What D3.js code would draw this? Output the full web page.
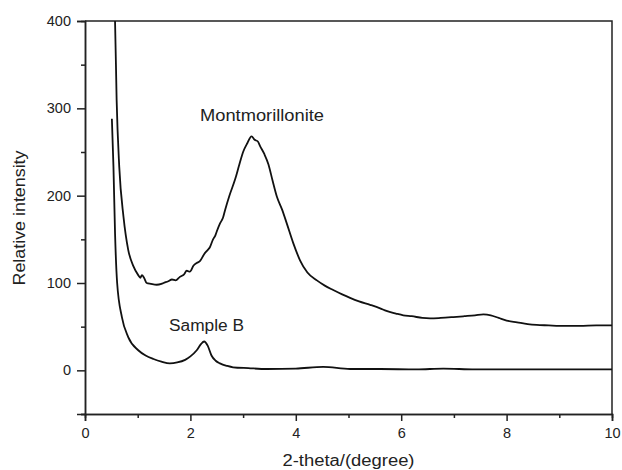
<!DOCTYPE html>
<html>
<head>
<meta charset="utf-8">
<script src="https://cdn.jsdelivr.net/npm/d3@7"></script>
<style>
  body { margin: 0; background: #fff; }
  svg text { font-family: "Liberation Sans", Arial, sans-serif; fill: #222; }
</style>
</head>
<body>
<svg id="chart" width="622" height="470"></svg>
<script>
// XRD patterns: 2-theta (degree) vs relative intensity
const montTheta = [0.55, 0.57, 0.60, 0.65, 0.73, 0.82, 0.92, 1.01, 1.05, 1.08, 1.12, 1.17, 1.25, 1.36, 1.45, 1.49, 1.58, 1.65, 1.72, 1.80, 1.88, 1.93, 1.99, 2.06, 2.12, 2.18, 2.26, 2.33, 2.37, 2.43, 2.47, 2.50, 2.56, 2.62, 2.66, 2.74, 2.85, 2.93, 3.00, 3.08, 3.16, 3.22, 3.28, 3.32, 3.40, 3.48, 3.56, 3.64, 3.74, 3.83, 3.95, 4.08, 4.22, 4.40, 4.55, 4.71, 4.88, 5.03, 5.20, 5.41, 5.60, 5.72, 5.90, 6.04, 6.20, 6.40, 6.55, 6.75, 6.99, 7.20, 7.40, 7.56, 7.70, 7.85, 8.00, 8.20, 8.40, 8.57, 8.80, 9.00, 9.39, 9.70, 10.0];
const montInt   = [420, 400, 310, 233, 176, 138, 119, 109, 106, 109, 106, 100, 99, 98, 99, 100, 102, 104, 103, 107, 110, 114, 113, 120, 123, 125, 133, 138, 141, 150, 154, 159, 168, 175, 184, 200, 219, 236, 250, 260, 268, 264, 262, 257, 248, 236, 217, 199, 184, 168, 146, 126, 112, 103, 97, 92, 87, 83, 79, 75, 71, 68, 65, 63, 62, 60, 59.5, 60, 61, 62, 63, 64, 63, 60, 57, 55, 53, 52, 51.5, 51, 51, 51.5, 51.5];

const sampTheta = [0.51, 0.54, 0.57, 0.61, 0.70, 0.82, 1.01, 1.15, 1.30, 1.45, 1.61, 1.75, 1.90, 2.00, 2.12, 2.20, 2.26, 2.33, 2.40, 2.48, 2.56, 2.70, 2.81, 3.10, 3.45, 4.00, 4.52, 5.03, 5.60, 6.29, 6.80, 7.40, 8.20, 9.00, 10.0];
const sampInt   = [288, 233, 157, 100, 61, 38, 23, 17, 13, 10, 8, 9, 12, 16, 23, 30, 33, 28, 17, 11, 8, 5, 3.5, 2.5, 1.5, 2, 4, 1.5, 1.5, 1, 2, 1, 1, 1, 1];

const xMajor = [0, 2, 4, 6, 8, 10];
const xMinor = [1, 3, 5, 7, 9];
const yMajor = [0, 100, 200, 300, 400];
const yMinor = [-50, 50, 150, 250, 350];

const svg = d3.select("#chart");
const m = { left: 85, right: 612, top: 21, bottom: 414 };

const x = d3.scaleLinear().domain([0, 10]).range([m.left, m.right]);
const y = d3.scaleLinear().domain([-50, 400]).range([m.bottom, m.top]);

svg.append("defs").append("clipPath").attr("id", "plotclip")
  .append("rect").attr("x", m.left).attr("y", m.top)
  .attr("width", m.right - m.left).attr("height", m.bottom - m.top);

// frame (top and right edges)
svg.append("path")
  .attr("d", `M${m.left},${m.top}H${m.right}V${m.bottom}`)
  .attr("fill", "none").attr("stroke", "#222").attr("stroke-width", 1.5);

const tickFont = "Liberation Sans, Arial, sans-serif";

// x axis
const gx = svg.append("g").attr("transform", `translate(0,${m.bottom})`);
gx.append("g").call(d3.axisBottom(x).tickValues(xMinor).tickSize(4).tickFormat(""));
gx.append("g").call(d3.axisBottom(x).tickValues(xMajor).tickSize(7).tickPadding(7).tickFormat(d3.format("d")));
gx.selectAll(".domain").attr("stroke", "#222").attr("stroke-width", 1.5);
gx.selectAll(".tick line").attr("stroke", "#222").attr("stroke-width", 1.5);
gx.selectAll(".tick text").attr("font-size", 14.5).style("fill", "#222").attr("font-family", tickFont);

// y axis
const gy = svg.append("g").attr("transform", `translate(${m.left},0)`);
gy.append("g").call(d3.axisLeft(y).tickValues(yMinor).tickSize(4).tickFormat(""));
gy.append("g").call(d3.axisLeft(y).tickValues(yMajor).tickSize(8).tickPadding(6).tickFormat(d3.format("d")));
gy.selectAll(".domain").attr("stroke", "#222").attr("stroke-width", 1.5);
gy.selectAll(".tick line").attr("stroke", "#222").attr("stroke-width", 1.5);
gy.selectAll(".tick text").attr("font-size", 14.5).style("fill", "#222").attr("font-family", tickFont);

// curves
const line = d3.line().x(d => x(d[0])).y(d => y(d[1])).curve(d3.curveMonotoneX);
const plot = svg.append("g").attr("clip-path", "url(#plotclip)");
plot.append("path").datum(d3.zip(montTheta, montInt))
  .attr("d", line).attr("fill", "none").attr("stroke", "#111").attr("stroke-width", 1.8)
  .attr("stroke-linejoin", "round");
plot.append("path").datum(d3.zip(sampTheta, sampInt))
  .attr("d", line).attr("fill", "none").attr("stroke", "#111").attr("stroke-width", 1.8)
  .attr("stroke-linejoin", "round");

// curve labels
svg.append("text").attr("x", 262).attr("y", 121).attr("text-anchor", "middle")
  .attr("font-size", 16).attr("textLength", 124).attr("lengthAdjust", "spacingAndGlyphs")
  .text("Montmorillonite");
svg.append("text").attr("x", 206.5).attr("y", 331).attr("text-anchor", "middle")
  .attr("font-size", 16).attr("textLength", 75).attr("lengthAdjust", "spacingAndGlyphs")
  .text("Sample B");

// axis titles
svg.append("text").attr("x", (m.left + m.right) / 2).attr("y", 466).attr("text-anchor", "middle")
  .attr("font-size", 16).attr("textLength", 132).attr("lengthAdjust", "spacingAndGlyphs")
  .text("2-theta/(degree)");
svg.append("text").attr("transform", `translate(25,218) rotate(-90)`)
  .attr("text-anchor", "middle").attr("font-size", 16)
  .attr("textLength", 135).attr("lengthAdjust", "spacingAndGlyphs")
  .text("Relative intensity");
</script>
</body>
</html>
